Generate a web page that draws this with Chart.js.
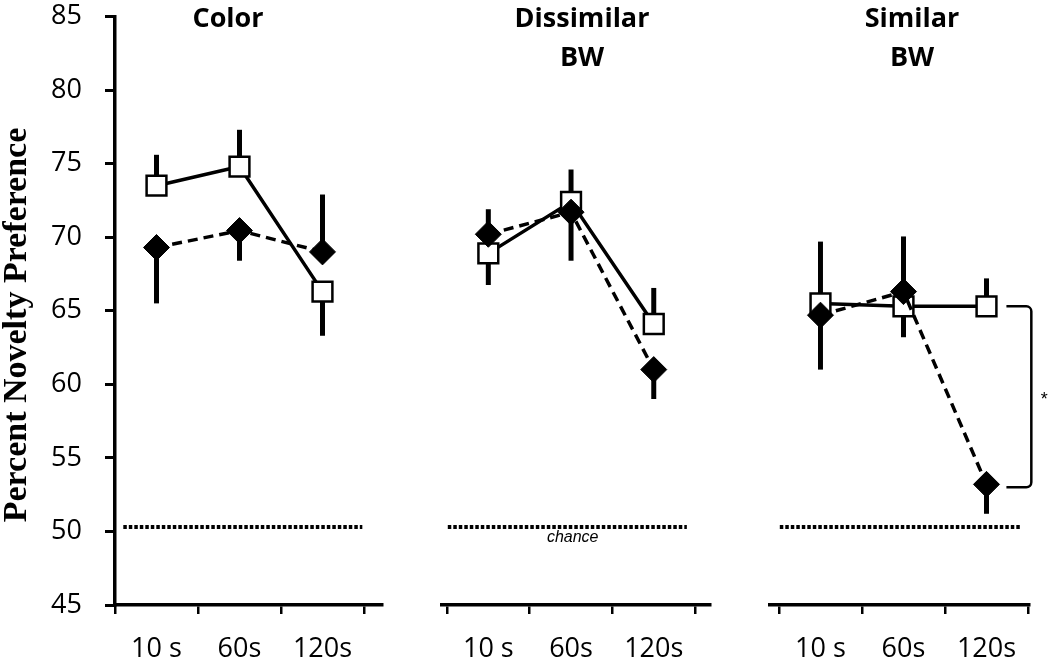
<!DOCTYPE html>
<html>
<head>
<meta charset="utf-8">
<script src="https://cdn.jsdelivr.net/npm/chart.js@4"></script>
<style>
  body { margin: 0; background: #fff; }
  #wrap { position: relative; width: 1050px; height: 660px; }
  #wrap canvas { position: absolute; left: 0; top: 0; }
</style>
</head>
<body>
<div id="wrap">
  <canvas id="c1" width="1050" height="660"></canvas>
  <canvas id="c2" width="1050" height="660"></canvas>
  <canvas id="c3" width="1050" height="660"></canvas>
</div>
<script>
const delays = ['10 s', '60s', '120s'];
const panelTitles = [['Color'], ['Dissimilar', 'BW'], ['Similar', 'BW']];

// open squares, solid line
const squareMeans = [[73.5, 74.8, 66.3], [68.9, 72.4, 64.1], [65.5, 65.3, 65.3]];
const squareErr = [[2.1, 2.5, 3.0], [2.15, 2.2, 2.45], [4.2, 2.1, 1.9]];
const squareErrDir = [[1, 1, -1], [-1, 1, 1], [1, -1, 1]];

// filled diamonds, dashed line
const diamondMeans = [[69.3, 70.45, 69.0], [70.2, 71.7, 61.0], [64.7, 66.3, 53.2]];
const diamondErr = [[3.8, 2.05, 3.9], [1.7, 3.3, 2.0], [3.7, 3.75, 2.0]];
const diamondErrDir = [[-1, -1, 1], [1, -1, -1], [-1, 1, -1]];

const chanceLevel = 50.3;
const yTicks = [45, 50, 55, 60, 65, 70, 75, 80, 85];

// where each panel sits on the page
const panels = [
    { id: 'c1', padLeft: 0, padRight: 668, xMin: 0, xMax: 3.217, showY: true, titleX: 228, chance: [0.1, 2.98] },
    { id: 'c2', padLeft: 442, padRight: 340, xMin: -0.06, xMax: 3.18, showY: false, titleX: 582, chance: [0.01, 2.9] },
    { id: 'c3', padLeft: 770, padRight: 21, xMin: -0.108, xMax: 3.012, showY: false, titleX: 912, chance: [0.01, 2.92] }
];

const tickSpots = [0, 0.5, 1, 1.5, 2, 2.5, 3];
const tickFont = { family: '"Open Sans", sans-serif', size: 27 };

const errorBars = {
    id: 'errorBars',
    beforeDatasetsDraw(chart, args, opts) {
        const { ctx, scales: { x, y } } = chart;
        ctx.save();
        ctx.strokeStyle = '#000';
        ctx.lineWidth = 5;
        opts.series.forEach(s => {
            s.means.forEach((m, i) => {
                const px = x.getPixelForValue(i + 0.5);
                ctx.beginPath();
                ctx.moveTo(px, y.getPixelForValue(m));
                ctx.lineTo(px, y.getPixelForValue(m + s.dir[i] * s.err[i]));
                ctx.stroke();
            });
        });
        ctx.restore();
    }
};

const panelText = {
    id: 'panelText',
    afterDraw(chart, args, opts) {
        const { ctx, scales: { x, y } } = chart;
        ctx.save();
        ctx.fillStyle = '#000';
        ctx.textAlign = 'center';
        ctx.textBaseline = 'middle';
        ctx.font = 'bold 27px "Open Sans", sans-serif';
        opts.title.forEach((line, i) => ctx.fillText(line, opts.titleX, 19 + i * 39));

        if (opts.index === 0) {
            ctx.save();
            ctx.translate(17, 325);
            ctx.rotate(-Math.PI / 2);
            ctx.font = 'bold 34px "Liberation Serif", serif';
            ctx.fillText('Percent Novelty Preference', 0, 0);
            ctx.restore();
        }
        if (opts.index === 1) {
            ctx.font = 'italic 16px "Liberation Sans", sans-serif';
            ctx.fillText('chance', x.getPixelForValue(1.52), y.getPixelForValue(chanceLevel) + 11);
        }
        if (opts.index === 2) {
            // significance bracket between the two 120s points
            const y1 = y.getPixelForValue(squareMeans[2][2]);
            const y2 = y.getPixelForValue(diamondMeans[2][2]) + 3;
            const xa = x.getPixelForValue(2.74);
            const xb = x.getPixelForValue(3.04);
            ctx.strokeStyle = '#000';
            ctx.lineWidth = 2.5;
            ctx.beginPath();
            ctx.moveTo(xa, y1);
            ctx.arcTo(xb, y1, xb, y1 + 6, 5);
            ctx.arcTo(xb, y2, xa, y2, 5);
            ctx.lineTo(xa, y2);
            ctx.stroke();
            ctx.font = '18px "Liberation Sans", sans-serif';
            ctx.fillText('*', xb + 13, (y1 + y2) / 2 + 3);
        }
        ctx.restore();
    }
};

panels.forEach((p, k) => {
    const toPoints = arr => arr.map((v, i) => ({ x: i + 0.5, y: v }));
    new Chart(document.getElementById(p.id), {
        type: 'line',
        data: {
            datasets: [
                {
                    label: 'diamond',
                    data: toPoints(diamondMeans[k]),
                    borderColor: '#000',
                    borderWidth: 3.5,
                    borderDash: [10, 6],
                    pointStyle: 'rectRot',
                    pointRadius: 13,
                    pointBackgroundColor: '#000',
                    pointBorderColor: '#000',
                    pointBorderWidth: 1
                },
                {
                    label: 'square',
                    data: toPoints(squareMeans[k]),
                    borderColor: '#000',
                    borderWidth: 3.5,
                    pointStyle: 'rect',
                    pointRadius: 14,
                    pointBackgroundColor: '#fff',
                    pointBorderColor: '#000',
                    pointBorderWidth: 2.5
                },
                {
                    label: 'chance',
                    data: [{ x: p.chance[0], y: chanceLevel }, { x: p.chance[1], y: chanceLevel }],
                    borderColor: '#000',
                    borderWidth: 4,
                    borderDash: [3.5, 2],
                    pointRadius: 0
                }
            ]
        },
        options: {
            responsive: false,
            animation: false,
            events: [],
            layout: { padding: { left: p.padLeft, right: p.padRight, top: 11, bottom: 0 } },
            scales: {
                x: {
                    type: 'linear',
                    min: p.xMin,
                    max: p.xMax,
                    afterBuildTicks: s => { s.ticks = tickSpots.map(v => ({ value: v })); },
                    afterFit: s => { s.height = 55; s.paddingLeft = 0; s.paddingRight = 0; },
                    grid: {
                        drawOnChartArea: false,
                        tickLength: 9,
                        lineWidth: 2.5,
                        color: c => (c.tick && c.tick.value % 1 === 0) ? '#000' : 'rgba(0,0,0,0)'
                    },
                    border: { color: '#000', width: 3.5 },
                    ticks: {
                        autoSkip: false,
                        maxRotation: 0,
                        padding: 19,
                        color: '#000',
                        font: tickFont,
                        callback: v => (v % 1 ? delays[v - 0.5] : '')
                    }
                },
                y: {
                    display: p.showY,
                    min: 45,
                    max: 85,
                    afterBuildTicks: s => { s.ticks = yTicks.map(v => ({ value: v })); },
                    afterFit: s => {
                        s.width = p.showY ? 115 : 0;
                        s.paddingTop = 0;
                        s.paddingBottom = 0;
                    },
                    grid: { drawOnChartArea: false, tickLength: 10, lineWidth: 3, color: '#000' },
                    border: { color: '#000', width: 3.5 },
                    ticks: { padding: 23, color: '#000', font: tickFont }
                }
            },
            plugins: {
                legend: { display: false },
                tooltip: { enabled: false },
                errorBars: {
                    series: [
                        { means: squareMeans[k], err: squareErr[k], dir: squareErrDir[k] },
                        { means: diamondMeans[k], err: diamondErr[k], dir: diamondErrDir[k] }
                    ]
                },
                panelText: { index: k, title: panelTitles[k], titleX: p.titleX }
            }
        },
        plugins: [errorBars, panelText]
    });
});
</script>
</body>
</html>
